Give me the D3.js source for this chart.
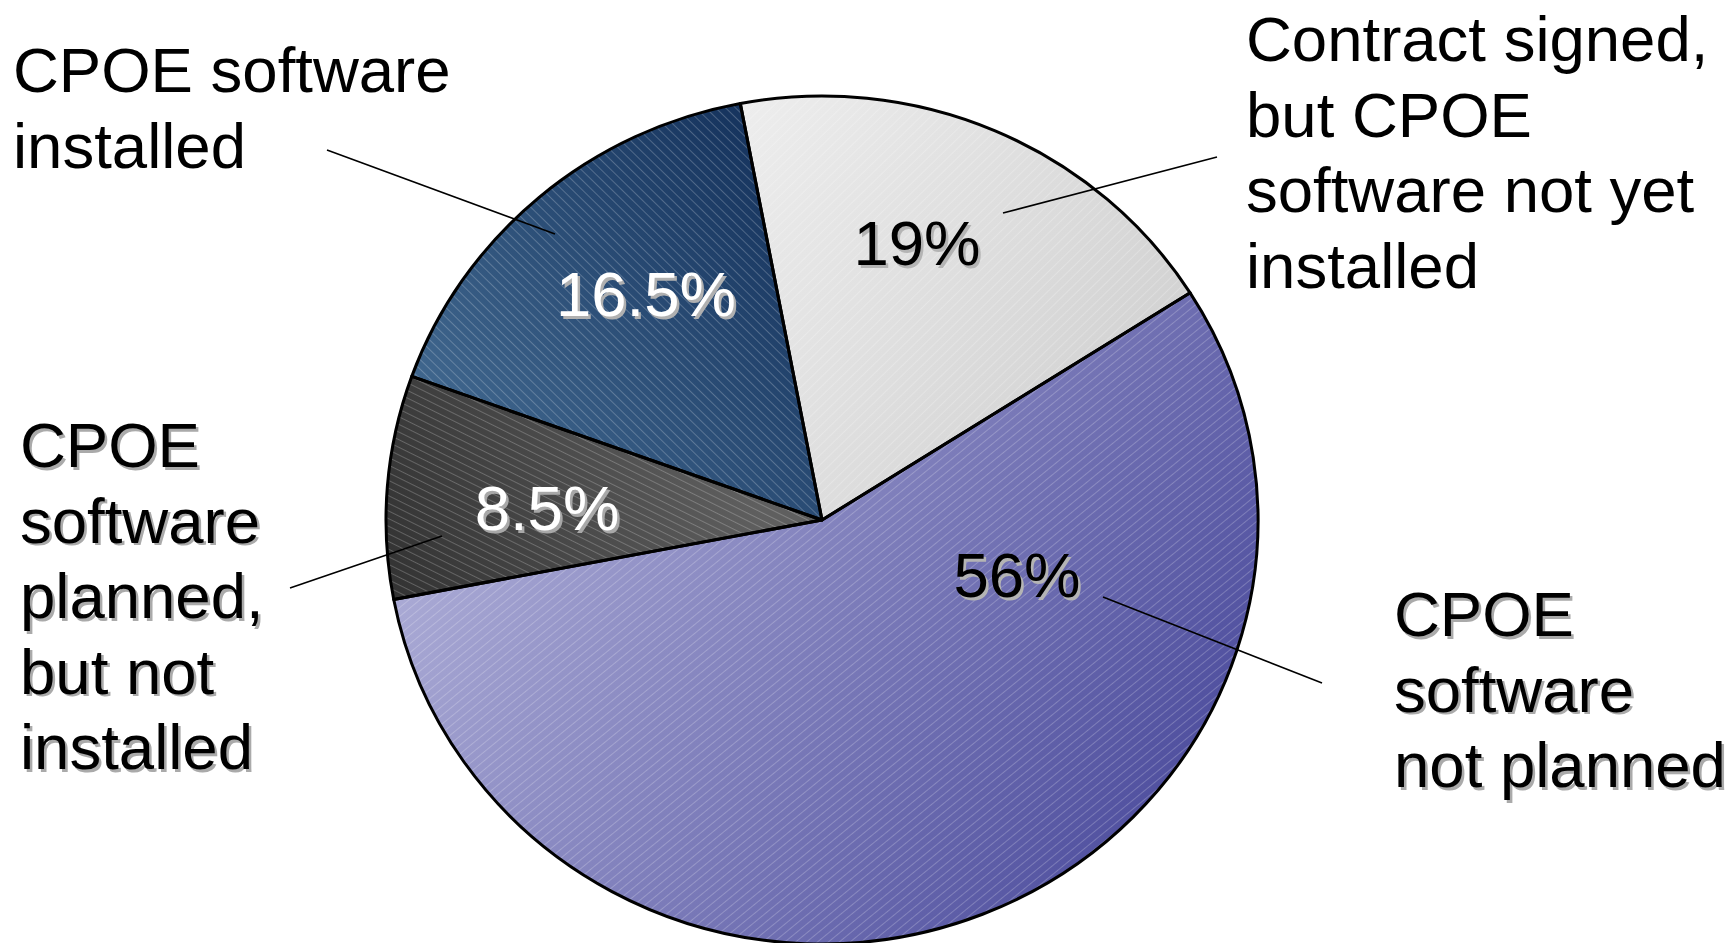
<!DOCTYPE html>
<html><head><meta charset="utf-8">
<script src="https://cdn.jsdelivr.net/npm/d3@7"></script>
<style>body{margin:0;background:#fff}svg{display:block}text{font-family:"Liberation Sans",Arial,sans-serif}</style>
</head><body>
<svg id="c" width="1733" height="943"></svg>
<script>
// ---- data ----
const categories = ["Contract signed, but CPOE software not yet installed", "CPOE software not planned", "CPOE software planned, but not installed", "CPOE software installed"];
const values = [19, 56, 8.5, 16.5];
const valueLabels = ["19%", "56%", "8.5%", "16.5%"];
const categoryLines = [
  ["Contract signed,", "but CPOE", "software not yet", "installed"],
  ["CPOE", "software", "not planned"],
  ["CPOE", "software", "planned,", "but not", "installed"],
  ["CPOE software", "installed"]
];

// ---- layout / style (not data) ----
const W = 1733, H = 943;
const cx = 822, cy = 520, R = 436, yScale = 424 / 436;
const startDeg = -10.8;
const fontSize = 63.5, lineH = 75.5;
const styles = [
  {g: [[-80, -420, "#ededed"], [440, -90, "#cbcbcb"]], rot: 45, txt: "#000", sh: "#b4b4b4"},
  {g: [[-436, -100, "#b6b6dc"], [380, 420, "#444498"]], rot: 50, txt: "#000", sh: "#b4b4b4"},
  {g: [[-80, -60, "#5f5f5f"], [-430, 70, "#333333"]], rot: -63, txt: "#fff", sh: "#a8a8a8"},
  {g: [[-430, -150, "#41688f"], [-100, -420, "#17355f"]], rot: -45, txt: "#fff", sh: "#b0b0b0"}
];
const valuePos = [[917, 265], [1017, 597], [547, 530], [646, 316]];
const leaders = [[[1217, 157], [1003, 213]], [[1103, 597], [1322, 683]], [[290, 588], [442, 536]], [[327, 150], [555, 234]]];
const catPos = [[1246, 61, false], [1394, 636, true], [20, 467, true], [13, 92, false]];

const svg = d3.select("#c");
const defs = svg.append("defs");

styles.forEach((s, i) => {
  const lg = defs.append("linearGradient").attr("id", "g" + i).attr("gradientUnits", "userSpaceOnUse")
    .attr("x1", s.g[0][0]).attr("y1", s.g[0][1]).attr("x2", s.g[1][0]).attr("y2", s.g[1][1]);
  lg.append("stop").attr("offset", 0).attr("stop-color", s.g[0][2]);
  lg.append("stop").attr("offset", 1).attr("stop-color", s.g[1][2]);
  const p = defs.append("pattern").attr("id", "p" + i).attr("patternUnits", "userSpaceOnUse")
    .attr("width", 7).attr("height", 7).attr("patternTransform", `rotate(${s.rot})`);
  p.append("line").attr("x1", 0.5).attr("y1", 0).attr("x2", 0.5).attr("y2", 7)
    .attr("stroke", "#fff").attr("stroke-opacity", 0.22).attr("stroke-width", 1);
});

const pie = d3.pie().sort(null).value(d => d)
  .startAngle(startDeg * Math.PI / 180).endAngle(startDeg * Math.PI / 180 + 2 * Math.PI);
const arcs = pie(values);
const arc = d3.arc().innerRadius(0).outerRadius(R);

const g = svg.append("g").attr("transform", `translate(${cx},${cy}) scale(1,${yScale})`);
g.selectAll("path.fill").data(arcs).join("path").attr("class", "fill")
  .attr("d", arc).attr("fill", (d, i) => `url(#g${i})`);
g.selectAll("path.hatch").data(arcs).join("path").attr("class", "hatch")
  .attr("d", arc).attr("fill", (d, i) => `url(#p${i})`);
g.selectAll("path.edge").data(arcs).join("path").attr("class", "edge")
  .attr("d", arc).attr("fill", "none").attr("stroke", "#000").attr("stroke-width", 3)
  .attr("stroke-linejoin", "round").attr("vector-effect", "non-scaling-stroke");

// leader lines
svg.selectAll("line.lead").data(leaders).join("line").attr("class", "lead")
  .attr("x1", d => d[0][0]).attr("y1", d => d[0][1]).attr("x2", d => d[1][0]).attr("y2", d => d[1][1])
  .attr("stroke", "#000").attr("stroke-width", 1.6);

// value labels
valueLabels.forEach((t, i) => {
  const [x, y] = valuePos[i];
  svg.append("text").attr("x", x + 2.5).attr("y", y + 2.5).attr("text-anchor", "middle")
    .attr("font-size", fontSize).attr("fill", styles[i].sh).text(t);
  svg.append("text").attr("x", x).attr("y", y).attr("text-anchor", "middle")
    .attr("font-size", fontSize).attr("fill", styles[i].txt).text(t);
});

// category labels
categoryLines.forEach((lines, i) => {
  const [x, y, shadow] = catPos[i];
  if (shadow) {
    const ts = svg.append("text").attr("font-size", fontSize).attr("fill", "#aaaaaa");
    lines.forEach((l, k) => ts.append("tspan").attr("x", x + 2.5).attr("y", y + 2.5 + k * lineH).text(l));
  }
  const t = svg.append("text").attr("font-size", fontSize).attr("fill", "#000");
  lines.forEach((l, k) => t.append("tspan").attr("x", x).attr("y", y + k * lineH).text(l));
});
</script>
</body></html>
